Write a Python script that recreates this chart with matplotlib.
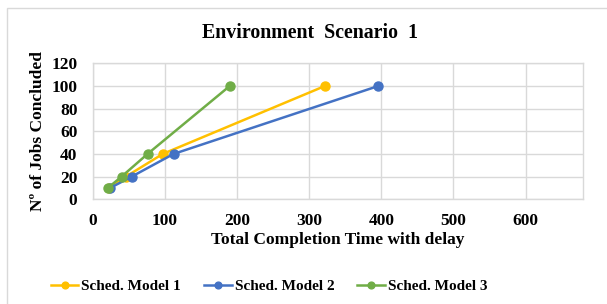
import matplotlib
matplotlib.use("Agg")
import matplotlib.pyplot as plt
from matplotlib.patches import Rectangle

# Data
jobs = [10, 20, 40, 100]
model1_time = [22, 46, 97, 322]
model2_time = [24, 54, 112, 396]
model3_time = [21, 40, 76, 190]
series_names = ["Sched. Model 1", "Sched. Model 2", "Sched. Model 3"]
colors = ["#FFC000", "#4472C4", "#70AD47"]

plt.rcParams['font.family'] = ['Liberation Serif', 'DejaVu Serif']

fig = plt.figure(figsize=(6.07, 3.04), dpi=100)
fig.patch.set_facecolor("white")

# light outer frame like the Excel chart area
fig.patches.append(Rectangle((7 / 607, -0.1), 1.2, 1.1 - 8 / 304, transform=fig.transFigure,
                             fill=False, edgecolor="#D9D9D9", linewidth=1.0))

ax = fig.add_axes([92.7 / 607, 1 - 199.3 / 304, (583.3 - 92.7) / 607, (199.3 - 63.3) / 304])

for xs, name, c in zip([model1_time, model2_time, model3_time], series_names, colors):
    ax.plot(xs, jobs, color=c, linewidth=1.8, marker="o", markersize=6.5, label=name)

ax.set_xlim(0, 680)
ax.set_ylim(0, 120)
ax.set_xticks(range(0, 700, 100))
ax.set_yticks(range(0, 140, 20))
ax.grid(True, color="#D9D9D9", linewidth=1.0)
ax.set_axisbelow(True)
for s in ax.spines.values():
    s.set_color("#D9D9D9")
    s.set_linewidth(1.0)
ax.tick_params(axis="y", length=0, labelsize=12.5, pad=11)
ax.tick_params(axis="x", length=0, labelsize=12.5, pad=10)
for lbl in ax.get_xticklabels() + ax.get_yticklabels():
    lbl.set_fontweight("bold")

ax.set_xlabel("Total Completion Time with delay", fontsize=12.5, fontweight="bold", labelpad=2)
ax.set_ylabel("Nº of Jobs Concluded", fontsize=12.5, fontweight="bold", labelpad=4)

fig.text(310 / 607, 1 - 33 / 304, "Environment  Scenario  1", ha="center", va="center",
         fontsize=14.3, fontweight="bold")

fig.legend(loc="center", bbox_to_anchor=(269 / 607, 1 - 286 / 304), ncol=3, frameon=False,
           prop={"size": 11, "weight": "bold"}, handlelength=1.8, handletextpad=0.2,
           columnspacing=1.5, markerscale=0.75)

fig.savefig("out.png", dpi=100)
